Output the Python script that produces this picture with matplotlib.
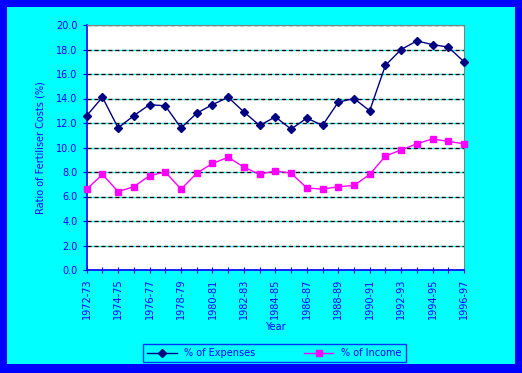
import matplotlib
matplotlib.use("Agg")
import matplotlib.pyplot as plt
from matplotlib.patches import Rectangle

years = [f"{y}-{str(y + 1)[-2:]}" for y in range(1972, 1997)]
expenses = [12.6, 14.1, 11.6, 12.6, 13.5, 13.4, 11.6, 12.8, 13.5, 14.1, 12.9, 11.8,
            12.5, 11.5, 12.4, 11.8, 13.7, 14.0, 13.0, 16.7, 18.0, 18.7, 18.4, 18.2, 17.0]
income = [6.6, 7.8, 6.4, 6.8, 7.7, 8.0, 6.6, 7.9, 8.7, 9.2, 8.4, 7.8,
          8.1, 7.9, 6.7, 6.6, 6.8, 6.9, 7.8, 9.3, 9.8, 10.3, 10.7, 10.5, 10.3]

blue = "#0000FF"
fig = plt.figure(figsize=(5.22, 3.73), dpi=100)
fig.patch.set_facecolor(blue)
# cyan panel inside the blue frame
fig.add_artist(Rectangle((7 / 522, 9 / 373), 508 / 522, 357 / 373,
                         transform=fig.transFigure, facecolor="#00FFFF", edgecolor="none", zorder=0))

ax = fig.add_axes([86.7 / 522, 103 / 373, 377.3 / 522, 245 / 373])
ax.set_facecolor("white")
x = list(range(len(years)))
ax.plot(x, expenses, color="#000080", marker="D", markersize=4.5, linewidth=1, label="% of Expenses", clip_on=False, zorder=3)
ax.plot(x, income, color="#FF00FF", marker="s", markersize=5, linewidth=1, label="% of Income", clip_on=False, zorder=3)

ax.set_xlim(0, len(years) - 1)
ax.set_ylim(0, 20)
ax.set_yticks(range(0, 21, 2))
ax.set_yticklabels([f"{v:.1f}" for v in range(0, 21, 2)])
ax.set_xticks(x)
ax.set_xticklabels([y if i % 2 == 0 else "" for i, y in enumerate(years)], rotation=90)
ax.yaxis.grid(True, color="black", linestyle=(0, (3, 2)), gapcolor="#00FFFF", linewidth=1)
ax.set_axisbelow(True)

for s in ["left", "bottom"]:
    ax.spines[s].set_color(blue)
    ax.spines[s].set_linewidth(1.2)
for s in ["top", "right"]:
    ax.spines[s].set_color("#808080")
ax.tick_params(axis="both", colors=blue, labelsize=7, direction="inout", length=5)
ax.tick_params(axis="y", length=3, direction="out")

ax.set_ylabel("Ratio of Fertiliser Costs (%)", color=blue, fontsize=7, labelpad=8)
ax.set_xlabel("Year", color=blue, fontsize=7, labelpad=2)

leg = fig.legend(loc="center", bbox_to_anchor=(274.5 / 522, 20 / 373), ncol=2,
                 fontsize=7, frameon=True, fancybox=False, columnspacing=5, handlelength=3)
leg.get_frame().set_facecolor("#00FFFF")
leg.get_frame().set_edgecolor(blue)
for t in leg.get_texts():
    t.set_color(blue)

plt.savefig("out.png", dpi=100, facecolor=fig.get_facecolor())
